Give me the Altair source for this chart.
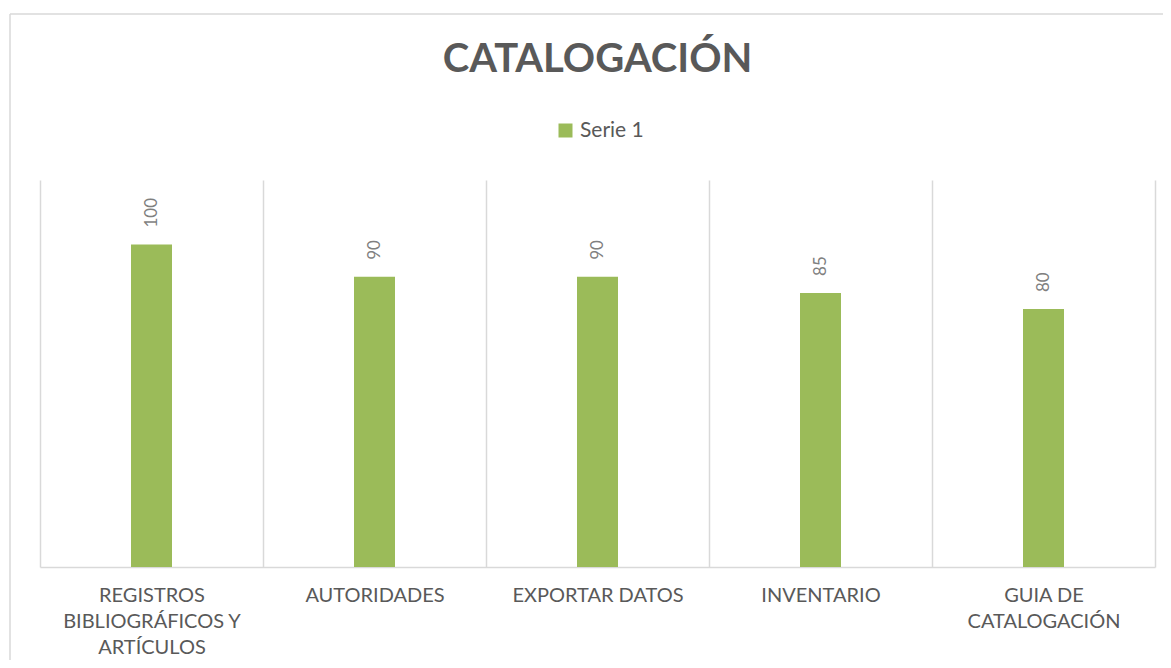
import json
import altair as alt
import pandas as pd

categories = ["REGISTROS BIBLIOGRÁFICOS Y ARTÍCULOS", "AUTORIDADES", "EXPORTAR DATOS",
              "INVENTARIO", "GUIA DE CATALOGACIÓN"]
label_lines = [["REGISTROS", "BIBLIOGRÁFICOS Y", "ARTÍCULOS"], ["AUTORIDADES"],
               ["EXPORTAR DATOS"], ["INVENTARIO"], ["GUIA DE", "CATALOGACIÓN"]]
values = [100, 90, 90, 85, 80]
series_name = "Serie 1"
title_text = "CATALOGACIÓN"

df = pd.DataFrame({"categoria": categories, "valor": values, "serie": [series_name] * len(values)})

expr = "''"
for cat, lines in reversed(list(zip(categories, label_lines))):
    expr = f"datum.value == {json.dumps(cat)} ? {json.dumps(lines)} : ({expr})"

FONT = "Lato"
GREEN = "#9BBB59"

x_enc = alt.X("categoria:N", sort=categories,
              scale=alt.Scale(paddingInner=0, paddingOuter=0),
              axis=alt.Axis(title=None, labelAngle=0, labelExpr=expr, grid=True,
                            tickBand="extent", gridColor="#d9d9d9", gridWidth=1.5,
                            domainColor="#d9d9d9", domainWidth=1.5, ticks=False,
                            labelFont=FONT, labelFontSize=20, labelColor="#595959",
                            labelPadding=18, labelLineHeight=26, labelBaseline="top"))
y_enc = alt.Y("valor:Q", scale=alt.Scale(domain=[0, 120]), axis=None)

bars = alt.Chart(df).mark_bar(width=41, color=GREEN).encode(
    x=x_enc, y=y_enc,
    color=alt.Color("serie:N", scale=alt.Scale(range=[GREEN]),
                    legend=alt.Legend(title=None, orient="none", legendX=515, legendY=-60,
                                      symbolType="square", symbolSize=196,
                                      symbolStrokeWidth=0, labelOffset=4,
                                      labelFont=FONT, labelFontSize=21, labelColor="#595959")))

labels = alt.Chart(df).mark_text(angle=270, align="left", baseline="middle", dx=17,
                                 font=FONT, fontSize=17, color="#7f7f7f").encode(
    x=alt.X("categoria:N", sort=categories), y=y_enc, text="valor:Q")

frame_df = pd.DataFrame({"k": [0]})
left_line = alt.Chart(frame_df).mark_rule(color="#d9d9d9", strokeWidth=1.5).encode(
    x=alt.value(-30), y=alt.value(-166), y2=alt.value(480))
top_line = alt.Chart(frame_df).mark_rule(color="#d9d9d9", strokeWidth=1.5).encode(
    x=alt.value(-30), x2=alt.value(1123), y=alt.value(-166))

chart = alt.layer(left_line, top_line, bars, labels).properties(
    width=1115, height=387,
    title=alt.TitleParams(title_text, font=FONT, fontSize=40, fontWeight="bold",
                          color="#595959", anchor="middle", offset=0,
                          baseline="alphabetic", dy=99),
    autosize=alt.AutoSizeParams(type="none"),
    padding={"left": 32, "top": 172, "right": 8, "bottom": 93},
).configure(background="white", view=alt.ViewConfig(stroke=None))

chart.save("out.html", embed_options={"renderer": "svg", "actions": False})
